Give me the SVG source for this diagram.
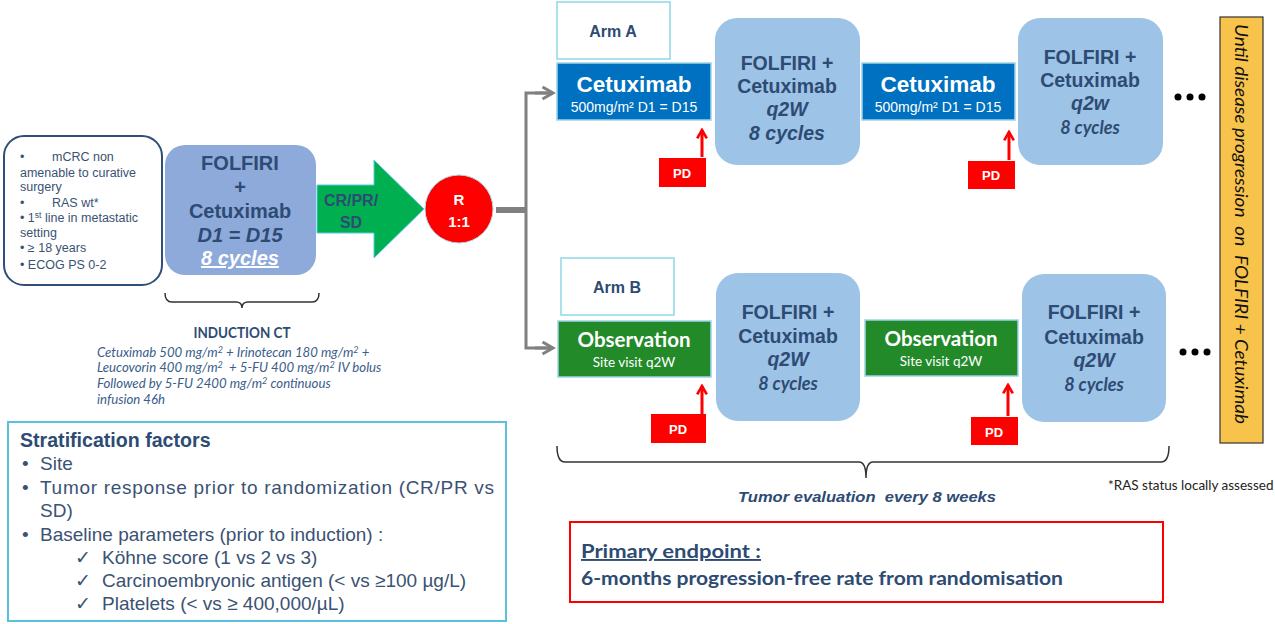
<svg xmlns="http://www.w3.org/2000/svg" width="1275" height="624" viewBox="0 0 1275 624">
<defs>
<style>
.a{font-family:"Liberation Sans",Arial,sans-serif}
.c{font-family:Lato,"Liberation Sans",sans-serif}
.dk{fill:#2D4B73}
.b{font-weight:bold}
.i{font-style:italic}
.mid{text-anchor:middle}
.lb{fill:#9DC3E6}
.cet{fill:#0070C0;stroke:#9DD3EA;stroke-width:1.5}
.obs{fill:#238A2A;stroke:#9DD3EA;stroke-width:1.5}
.arm{fill:#fff;stroke:#8ED8E6;stroke-width:1.5}
.pd{fill:#FF0000}
.pdt{fill:#fff;font-size:13px;font-weight:bold}
.w{fill:#fff}
.redarr{stroke:#FF0000;stroke-width:3;fill:none}
.brace{fill:none;stroke:#333;stroke-width:1.5}
</style>
<marker id="gh" viewBox="0 0 10 10" refX="8" refY="5" markerWidth="5" markerHeight="5" orient="auto" markerUnits="strokeWidth">
<path d="M1,1 L8,5 L1,9" fill="none" stroke="#808080" stroke-width="2"/>
</marker>
<marker id="rh" viewBox="0 0 10 10" refX="8" refY="5" markerWidth="4" markerHeight="4" orient="auto" markerUnits="strokeWidth">
<path d="M1,1 L8,5 L1,9" fill="none" stroke="#FF0000" stroke-width="2.2"/>
</marker>
</defs>
<rect width="1275" height="624" fill="#fff"/>

<g id="inclusion">
<rect x="4" y="136" width="158" height="149" rx="20" fill="#fff" stroke="#2F4F78" stroke-width="2"/>
<g class="a" font-size="12.5" fill="#3A5273">
<text x="20" y="161">•</text><text x="52" y="161">mCRC non</text>
<text x="20" y="177">amenable to curative</text>
<text x="20" y="191">surgery</text>
<text x="20" y="207">•</text><text x="52" y="207">RAS wt*</text>
<text x="20" y="222">• 1<tspan font-size="8.5" dy="-4">st</tspan><tspan dy="4"> line in metastatic</tspan></text>
<text x="20" y="237">setting</text>
<text x="20" y="252">• ≥ 18 years</text>
<text x="20" y="269">• ECOG PS 0-2</text>
</g>
</g>

<g id="induction">
<rect x="165" y="145" width="151" height="130" rx="20" fill="#8EAADB"/>
<g class="a b dk mid" font-size="20">
<text x="240" y="170">FOLFIRI</text>
<text x="240" y="194">+</text>
<text x="240" y="218">Cetuximab</text>
<text x="240" y="242" font-style="italic">D1 = D15</text>
<text x="240" y="265" font-style="italic" fill="#fff" text-decoration="underline">8 cycles</text>
</g>
</g>

<g id="induction-brace">
<path class="brace" d="M165,293 Q165,302 172,302 L236,302 Q242,302 242,308 Q242,302 248,302 L312,302 Q319,302 319,293"/>
<text class="c b dk mid" x="242" y="338" font-size="14.5" textLength="97" lengthAdjust="spacingAndGlyphs">INDUCTION CT</text>
<g class="c i" font-size="13.2" fill="#3A5D8A">
<text x="97" y="357">Cetuximab 500 mg/m<tspan font-size="9" dy="-4">2</tspan><tspan dy="4"> + Irinotecan 180 mg/m</tspan><tspan font-size="9" dy="-4">2</tspan><tspan dy="4"> +</tspan></text>
<text x="97" y="372">Leucovorin 400 mg/m<tspan font-size="9" dy="-4">2</tspan><tspan dy="4">&#160; + 5-FU 400 mg/m</tspan><tspan font-size="9" dy="-4">2</tspan><tspan dy="4"> IV bolus</tspan></text>
<text x="97" y="388">Followed by 5-FU 2400 mg/m<tspan font-size="9" dy="-4">2</tspan><tspan dy="4"> continuous</tspan></text>
<text x="97" y="404">infusion 46h</text>
</g>
</g>

<g id="response-arrow">
<path d="M317,185 L374,185 L374,160 L424,209 L374,258 L374,233 L317,233 Z" fill="#00B050" stroke="#5BC8E8" stroke-width="1"/>
<g class="a b dk mid" font-size="16">
<text x="351" y="206">CR/PR/</text>
<text x="351" y="228">SD</text>
</g>
</g>

<g id="randomisation">
<circle cx="459" cy="209" r="34" fill="#FF0000" stroke="#B0D8E8" stroke-width="1"/>
<g class="a b w mid" font-size="15">
<text x="459" y="205">R</text>
<text x="459" y="227">1:1</text>
</g>
</g>

<g id="connectors">
<line x1="496" y1="210" x2="527" y2="210" stroke="#808080" stroke-width="6"/>
<path d="M553,93 L526,93 L526,348 L553,348" fill="none" stroke="#808080" stroke-width="3"/>
<line x1="535" y1="93" x2="553" y2="93" stroke="#808080" stroke-width="3" marker-end="url(#gh)"/>
<line x1="535" y1="348" x2="553" y2="348" stroke="#808080" stroke-width="3" marker-end="url(#gh)"/>
<line class="redarr" x1="702" y1="157" x2="702" y2="130" marker-end="url(#rh)"/>
<line class="redarr" x1="1009" y1="160" x2="1009" y2="132" marker-end="url(#rh)"/>
<line class="redarr" x1="702" y1="414" x2="702" y2="386" marker-end="url(#rh)"/>
<line class="redarr" x1="1008" y1="416" x2="1008" y2="385" marker-end="url(#rh)"/>
</g>

<g id="armA-label">
<rect class="arm" x="557" y="2" width="113" height="57"/>
<text class="a b dk mid" x="613" y="37" font-size="16">Arm A</text>
</g>
<g id="armA-cet1">
<rect class="cet" x="557" y="63" width="154" height="57"/>
<text class="a b w mid" x="634" y="92" font-size="22.5">Cetuximab</text>
<text class="a w mid" x="634" y="112" font-size="14">500mg/m² D1 = D15</text>
</g>
<g id="armA-fc1">
<rect class="lb" x="715" y="18" width="145" height="147" rx="22"/>
<g class="a b dk mid" font-size="19.5">
<text x="787" y="70">FOLFIRI +</text>
<text x="787" y="93">Cetuximab</text>
<text x="787" y="116" font-style="italic">q2W</text>
<text x="787" y="140" font-style="italic">8 cycles</text>
</g>
</g>
<g id="armA-pd1">
<rect class="pd" x="659" y="158" width="47" height="29"/>
<text class="a pdt mid" x="682" y="178">PD</text>
</g>
<g id="armA-cet2">
<rect class="cet" x="862" y="63" width="153" height="57"/>
<text class="a b w mid" x="938" y="92" font-size="22.5">Cetuximab</text>
<text class="a w mid" x="938" y="112" font-size="14">500mg/m² D1 = D15</text>
</g>
<g id="armA-fc2">
<rect class="lb" x="1018" y="18" width="145" height="147" rx="22"/>
<g class="a b dk mid" font-size="19.5">
<text x="1090" y="64">FOLFIRI +</text>
<text x="1090" y="87">Cetuximab</text>
<text x="1090" y="110" font-style="italic">q2w</text>
</g>
<text class="c b i dk mid" x="1090" y="134" font-size="18">8 cycles</text>
</g>
<g id="armA-pd2">
<rect class="pd" x="968" y="161" width="47" height="28"/>
<text class="a pdt mid" x="991" y="180">PD</text>
</g>
<g id="armA-dots">
<circle cx="1178" cy="97" r="3.5"/><circle cx="1190" cy="97" r="3.5"/><circle cx="1202" cy="97" r="3.5"/>
</g>

<g id="armB-label">
<rect class="arm" x="561" y="258" width="113" height="57"/>
<text class="a b dk mid" x="617" y="293" font-size="16">Arm B</text>
</g>
<g id="armB-obs1">
<rect class="obs" x="558" y="321" width="153" height="56"/>
<text class="c b w mid" x="634" y="347" font-size="20.5">Observation</text>
<text class="c w mid" x="634" y="367" font-size="13.5">Site visit q2W</text>
</g>
<g id="armB-fc1">
<rect class="lb" x="716" y="273" width="144" height="148" rx="22"/>
<g class="a b dk mid" font-size="19.5">
<text x="788" y="319">FOLFIRI +</text>
<text x="788" y="343">Cetuximab</text>
<text x="788" y="366" font-style="italic">q2W</text>
</g>
<text class="c b i dk mid" x="788" y="390" font-size="18">8 cycles</text>
</g>
<g id="armB-pd1">
<rect class="pd" x="651" y="414" width="55" height="29"/>
<text class="a pdt mid" x="678" y="434">PD</text>
</g>
<g id="armB-obs2">
<rect class="obs" x="865" y="320" width="153" height="56"/>
<text class="c b w mid" x="941" y="346" font-size="20.5">Observation</text>
<text class="c w mid" x="941" y="366" font-size="13.5">Site visit q2W</text>
</g>
<g id="armB-fc2">
<rect class="lb" x="1022" y="274" width="144" height="148" rx="22"/>
<g class="a b dk mid" font-size="19.5">
<text x="1094" y="319">FOLFIRI +</text>
<text x="1094" y="344">Cetuximab</text>
<text x="1094" y="367" font-style="italic">q2W</text>
</g>
<text class="c b i dk mid" x="1094" y="391" font-size="18">8 cycles</text>
</g>
<g id="armB-pd2">
<rect class="pd" x="971" y="417" width="47" height="28"/>
<text class="a pdt mid" x="994" y="437">PD</text>
</g>
<g id="armB-dots">
<circle cx="1183" cy="352" r="3.5"/><circle cx="1195" cy="352" r="3.5"/><circle cx="1207" cy="352" r="3.5"/>
</g>

<g id="until-bar">
<rect x="1220" y="17" width="43" height="426" fill="#F8C34A" stroke="#333" stroke-width="1.2"/>
<text class="c i" font-size="16.5" fill="#111" transform="translate(1235,224) rotate(90)" text-anchor="middle" textLength="400" lengthAdjust="spacingAndGlyphs">Until disease progression&#160; on&#160; FOLFIRI + Cetuximab</text>
</g>

<g id="evaluation-brace">
<path class="brace" d="M557,446 Q557,462 565,462 L859,462 Q866,462 866,478 Q866,462 873,462 L1161,462 Q1169,462 1169,446"/>
<text class="a b i mid" x="867" y="502" font-size="14.5" fill="#2D4B73" textLength="258" lengthAdjust="spacingAndGlyphs">Tumor evaluation&#160; every 8 weeks</text>
</g>

<text class="c" x="1108" y="490" font-size="13.5" fill="#222">*RAS status locally assessed</text>

<g id="primary-endpoint">
<rect x="570" y="522" width="593" height="80" fill="#fff" stroke="#FF0000" stroke-width="2"/>
<text class="c b dk" x="581" y="558" font-size="19" text-decoration="underline" textLength="180" lengthAdjust="spacingAndGlyphs">Primary endpoint :</text>
<text class="c b dk" x="581" y="585" font-size="19" textLength="482" lengthAdjust="spacingAndGlyphs">6-months progression-free rate from randomisation</text>
</g>

<g id="stratification">
<rect x="8" y="422" width="498" height="199" fill="#fff" stroke="#5BC0DE" stroke-width="2"/>
<text class="a b dk" x="20" y="447" font-size="19.6">Stratification factors</text>
<g class="a" font-size="19" fill="#3A5273">
<text x="22" y="470">•</text><text x="40" y="470">Site</text>
<text x="22" y="494">•</text><text x="40" y="494" textLength="454" lengthAdjust="spacing">Tumor response prior to randomization (CR/PR vs</text>
<text x="40" y="517">SD)</text>
<text x="22" y="541">•</text><text x="40" y="541">Baseline parameters (prior to induction) :</text>
<text x="75" y="564">✓</text><text x="102" y="564">Köhne score (1 vs 2 vs 3)</text>
<text x="75" y="587">✓</text><text x="102" y="587">Carcinoembryonic antigen (&lt; vs ≥100 µg/L)</text>
<text x="75" y="610">✓</text><text x="102" y="610">Platelets (&lt; vs ≥ 400,000/µL)</text>
</g>
</g>
</svg>
